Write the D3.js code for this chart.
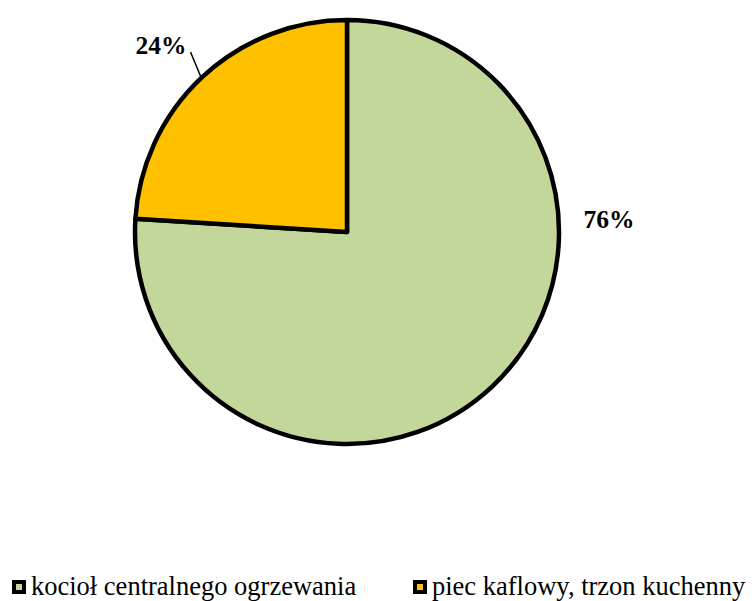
<!DOCTYPE html>
<html><head><meta charset="utf-8">
<script src="https://cdn.jsdelivr.net/npm/d3@7/dist/d3.min.js"></script>
<style>body{margin:0;background:#fff}svg{display:block}</style>
</head><body>
<svg id="c" width="752" height="601"></svg>
<script>
const categories = ["kocioł centralnego ogrzewania", "piec kaflowy, trzon kuchenny"];
const values = [76, 24];
const labels = ["76%", "24%"];
const colors = ["#C4D79B", "#FFC000"];

const svg = d3.select("#c");
const cx = 347, cy = 232, r = 212;
const g = svg.append("g").attr("transform", `translate(${cx},${cy})`);
const pie = d3.pie().sort(null).value(d => d)(values);
const arc = d3.arc().innerRadius(0).outerRadius(r);

g.selectAll("path.s").data(pie).join("path")
  .attr("class", "s")
  .attr("d", arc)
  .attr("fill", (d, i) => colors[i])
  .attr("stroke", "#000")
  .attr("stroke-width", 4.5)
  .attr("stroke-linejoin", "round");

const font = "Liberation Serif, Times New Roman, serif";
// 76% label placed right of pie
g.append("text").attr("x", r + 50).attr("y", -4)
  .attr("text-anchor", "middle")
  .attr("font-family", font).attr("font-weight", "bold").attr("font-size", 25.5)
  .text(labels[0]);
// 24% label with leader
const a = (pie[1].startAngle + pie[1].endAngle) / 2;
const p0 = [Math.sin(a) * (r + 2), -Math.cos(a) * (r + 2)];
const p1 = [p0[0] - 10, p0[1] - 24];
g.append("line").attr("x1", p0[0]).attr("y1", p0[1]).attr("x2", p1[0]).attr("y2", p1[1])
  .attr("stroke", "#000").attr("stroke-width", 1.5);
g.append("text").attr("x", p1[0] - 4).attr("y", p1[1] + 2)
  .attr("text-anchor", "end")
  .attr("font-family", font).attr("font-weight", "bold").attr("font-size", 25.5)
  .text(labels[1]);

// legend
const lx = [12, 413];
const leg = svg.append("g");
categories.forEach((c, i) => {
  leg.append("rect").attr("x", lx[i] + 2).attr("y", 582).attr("width", 10).attr("height", 10)
    .attr("fill", colors[i]).attr("stroke", "#000").attr("stroke-width", 4);
  leg.append("text").attr("x", lx[i] + 19).attr("y", 595)
    .attr("font-family", font).attr("font-size", 26.5).attr("fill", "#000")
    .text(c);
});
</script>
</body></html>
